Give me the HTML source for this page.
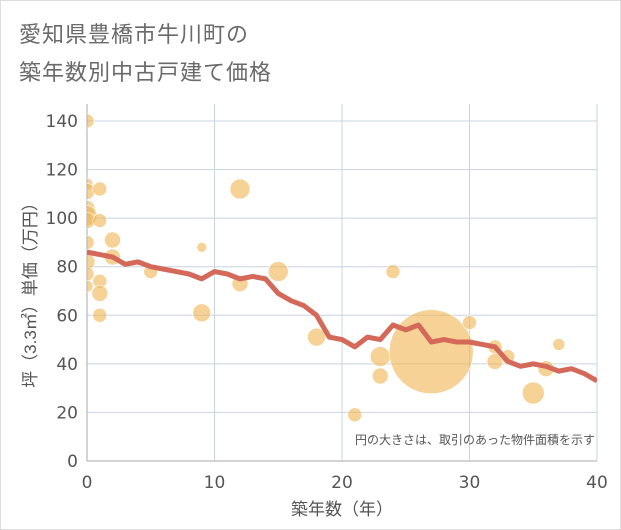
<!DOCTYPE html>
<html><head><meta charset="utf-8"><style>
body{margin:0;background:#fff;}
#wrap{position:relative;width:619px;height:528px;border:1px solid #ddd;font-family:"Liberation Sans","Noto Sans CJK JP",sans-serif;}
.title{position:absolute;left:18px;font-size:22px;color:#6a6a6a;letter-spacing:1px;}
</style></head><body>
<div id="wrap">
<div class="title" style="top:16px">愛知県豊橋市牛川町の</div>
<div class="title" style="top:54px">築年数別中古戸建て価格</div>
<svg id="svg" width="619" height="528" style="position:absolute;left:0;top:0"></svg>
</div>
<script>
const xTicks=[0,10,20,30,40];
const yTicks=[0,20,40,60,80,100,120,140];
const lineYears=[0,1,2,3,4,5,6,7,8,9,10,11,12,13,14,15,16,17,18,19,20,21,22,23,24,25,26,27,28,29,30,31,32,33,34,35,36,37,38,39,40];
const lineValues=[86,85,84,81,82,80,79,78,77,75,78,77,75,76,75,69,66,64,60,51,50,47,51,50,56,54,56,49,50,49,49,48,47,41,39,40,39,37,38,36,33];
const bubbleX=[0,0,0,1,0,0,0,1,0,2,0,2,5,0,0,1,1,1,9,9,12,12,15,18,21,23,23,24,27,30,32,32,33,35,36,37];
const bubbleY=[140,114,111,112,104,101,99,99,90,91,82,84,78,77,72,74,69,60,88,61,112,73,78,51,19,43,35,78,45,57,47,41,43,28,38,48];
const bubbleR=[7,6,8,7,8,10,8,7,7,8,8,8,7,7,6,7,8,7,5,9,10,8,10,9,7,10,8,7,42,7,7,8,7,11,8,6];
const NS="http://www.w3.org/2000/svg";
const svg=document.getElementById('svg');
const L=86,R=596,T=103,B=460;
const sx=v=>L+v*(R-L)/40, sy=v=>B-v*(340/140);
function mk(t,a){const e=document.createElementNS(NS,t);for(const k in a)e.setAttribute(k,a[k]);svg.appendChild(e);return e;}
const clip=mk('clipPath',{id:'c'});const cr=document.createElementNS(NS,'rect');cr.setAttribute('x',L);cr.setAttribute('y',T);cr.setAttribute('width',R-L);cr.setAttribute('height',B-T);clip.appendChild(cr);
const TF='"DejaVu Sans",sans-serif';
xTicks.forEach(v=>{const g=mk('line',{x1:sx(v),x2:sx(v),y1:T,y2:B,stroke:'#c8d4e0','stroke-width':1});
const t=mk('text',{x:sx(v),y:487,'text-anchor':'middle','font-size':17,'font-family':TF,fill:'#555'});t.textContent=v;});
yTicks.forEach(v=>{const g=mk('line',{x1:L,x2:R,y1:sy(v),y2:sy(v),stroke:'#c8d4e0','stroke-width':1});
const t=mk('text',{x:77,y:sy(v)+6,'text-anchor':'end','font-size':17,'font-family':TF,fill:'#555'});t.textContent=v;});
const ax=mk('line',{x1:L,x2:L,y1:T,y2:B,stroke:'#aaa'});
const ax2=mk('line',{x1:L,x2:R,y1:B,y2:B,stroke:'#aaa'});
const gb=mk('g',{'clip-path':'url(#c)'});
bubbleX.forEach((x,i)=>{const c=document.createElementNS(NS,'circle');c.setAttribute('cx',sx(x));c.setAttribute('cy',sy(bubbleY[i]));c.setAttribute('r',bubbleR[i]);c.setAttribute('fill','rgba(240,180,80,0.6)');c.setAttribute('stroke','#fff');c.setAttribute('stroke-width','0.6');

gb.appendChild(c);});
const p=document.createElementNS(NS,'polyline');p.setAttribute('points',lineYears.map((x,i)=>sx(x)+','+sy(lineValues[i])).join(' '));p.setAttribute('fill','none');p.setAttribute('stroke','#d4695a');p.setAttribute('stroke-width','5');p.setAttribute('stroke-linejoin','round');

gb.appendChild(p);
const note=mk('text',{x:594,y:443,'text-anchor':'end','font-size':12,fill:'#555'});note.textContent='円の大きさは、取引のあった物件面積を示す';
const xt=mk('text',{x:341,y:514,'text-anchor':'middle','font-size':17,fill:'#555'});xt.textContent='築年数（年）';
const yt=mk('text',{x:0,y:0,'text-anchor':'middle','font-size':17,fill:'#555',transform:'translate(35,290) rotate(-90)'});yt.textContent='坪（3.3㎡）単価（万円）';
</script>
</body></html>
